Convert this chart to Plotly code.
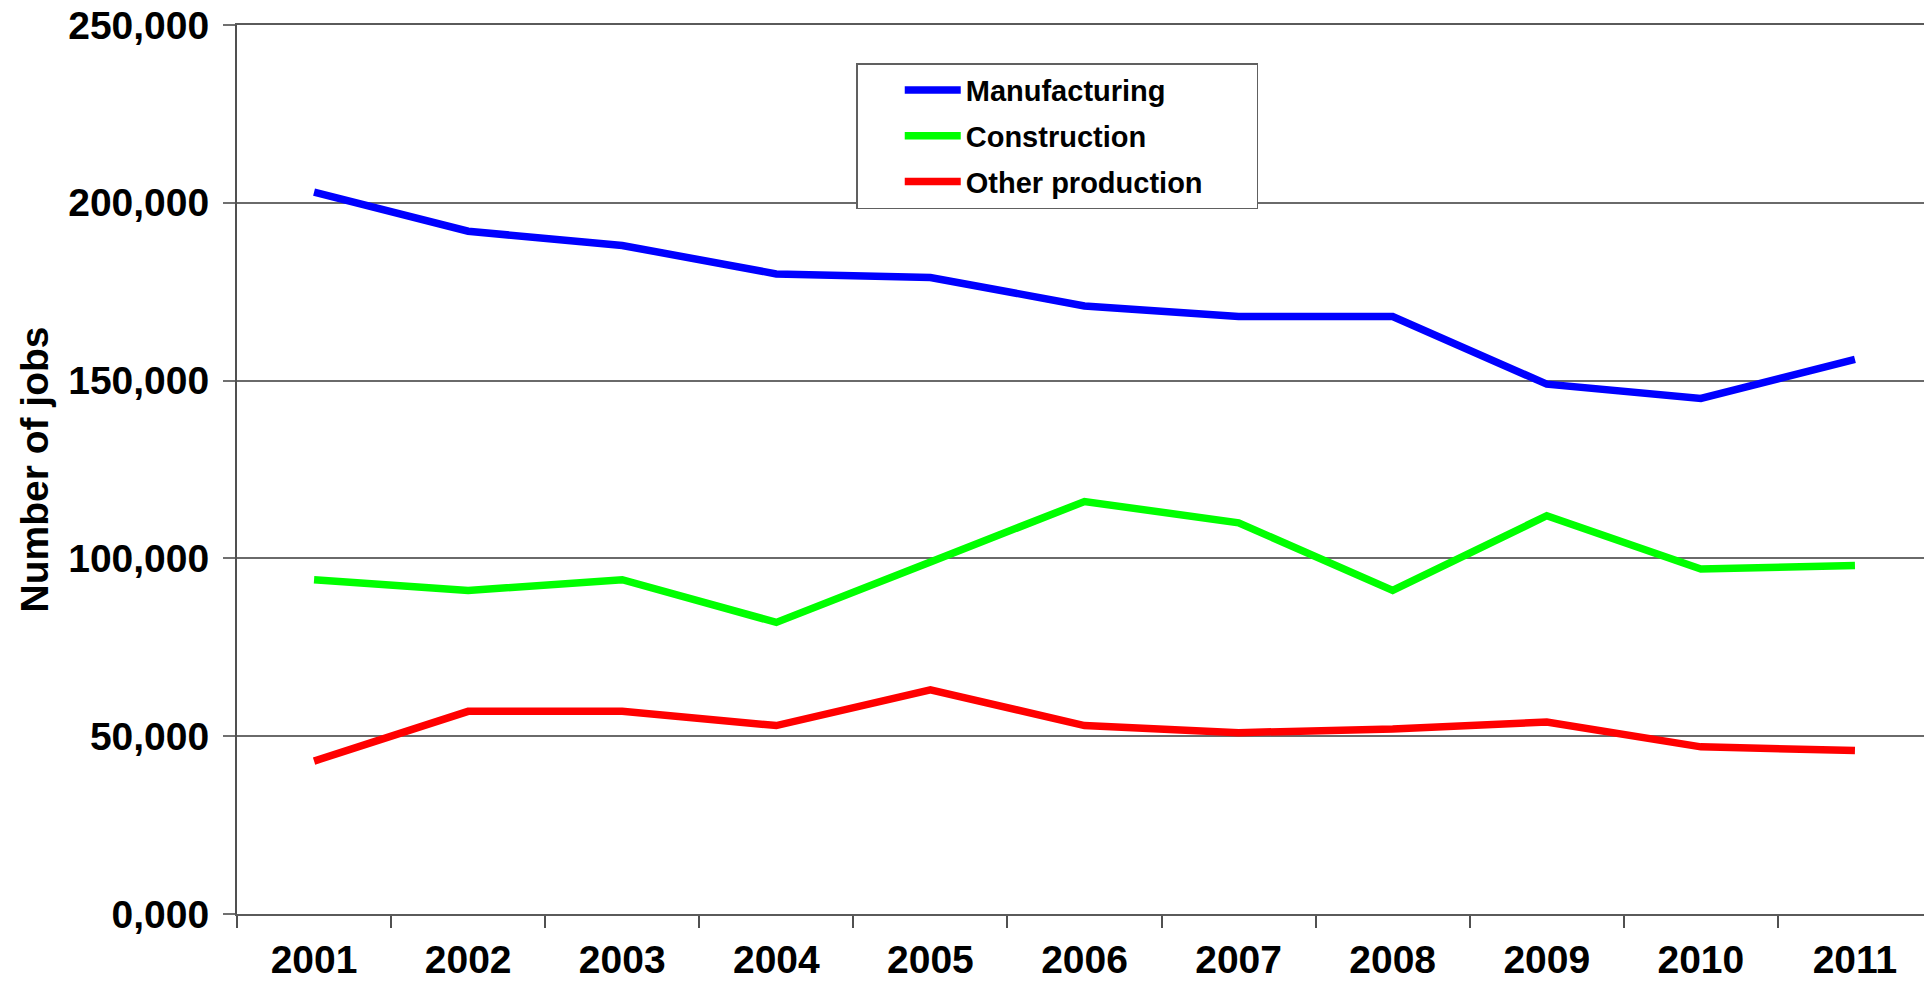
import plotly.graph_objects as go

years = ["2001", "2002", "2003", "2004", "2005", "2006", "2007", "2008", "2009", "2010", "2011"]
manufacturing = [203000, 192000, 188000, 180000, 179000, 171000, 168000, 168000, 149000, 145000, 156000]
construction = [94000, 91000, 94000, 82000, 99000, 116000, 110000, 91000, 112000, 97000, 98000]
other_production = [43000, 57000, 57000, 53000, 63000, 53000, 51000, 52000, 54000, 47000, 46000]

y_tick_values = [0, 50000, 100000, 150000, 200000, 250000]
y_tick_labels = ["0,000", "50,000", "100,000", "150,000", "200,000", "250,000"]

series_names = ["Manufacturing", "Construction", "Other production"]
series_values = [manufacturing, construction, other_production]
series_colors = ["#0000FF", "#00FF00", "#FF0000"]

FONT = "Liberation Sans, Arial, Helvetica, sans-serif"
NBSP = "\u00a0"

fig = go.Figure()
for i, (name, vals, color) in enumerate(zip(series_names, series_values, series_colors)):
    label = name + NBSP * 6 if name == "Other production" else name
    fig.add_trace(go.Scatter(
        x=years, y=vals, name=label, mode="lines",
        line=dict(color=color, width=7.5),
        legendgroup=f"g{i}",
    ))

fig.update_layout(
    width=1924, height=973,
    margin=dict(l=229, r=0, t=17, b=67, autoexpand=False),
    paper_bgcolor="white", plot_bgcolor="white",
    font=dict(family=FONT, color="black", size=39, weight="bold"),
    showlegend=True,
    legend=dict(
        x=0.3652, y=0.957, xanchor="left", yanchor="top",
        bgcolor="white", bordercolor="#606060", borderwidth=1.5,
        font=dict(family=FONT, size=29, color="black", weight="bold"),
        itemwidth=56, tracegroupgap=5,
        title=dict(text=NBSP * 4, side="left",
                   font=dict(family=FONT, size=29, color="black")),
    ),
)

fig.update_xaxes(
    type="category", range=[-0.5, 10.5],
    showline=True, mirror=True, linecolor="#5a5a5a", linewidth=2,
    ticks="outside", ticklen=12, tickwidth=1.5, tickcolor="#505050",
    tickson="boundaries", ticklabelstandoff=10,
    showgrid=False, zeroline=False,
    tickfont=dict(family=FONT, size=39, color="black", weight="bold"),
)
fig.update_yaxes(
    range=[0, 250000],
    tickvals=y_tick_values, ticktext=y_tick_labels,
    ticklabeloverflow="allow",
    showline=True, linecolor="#505050", linewidth=2,
    ticks="outside", ticklen=12, tickwidth=1.5, tickcolor="#707070",
    ticklabelstandoff=6,
    showgrid=True, gridcolor="#6a6a6a", gridwidth=1.7,
    zeroline=False,
    tickfont=dict(family=FONT, size=39, color="black", weight="bold"),
    title=dict(text="Number of jobs", standoff=8,
               font=dict(family=FONT, size=39, color="black", weight="bold")),
)

fig.write_html("out.html")
